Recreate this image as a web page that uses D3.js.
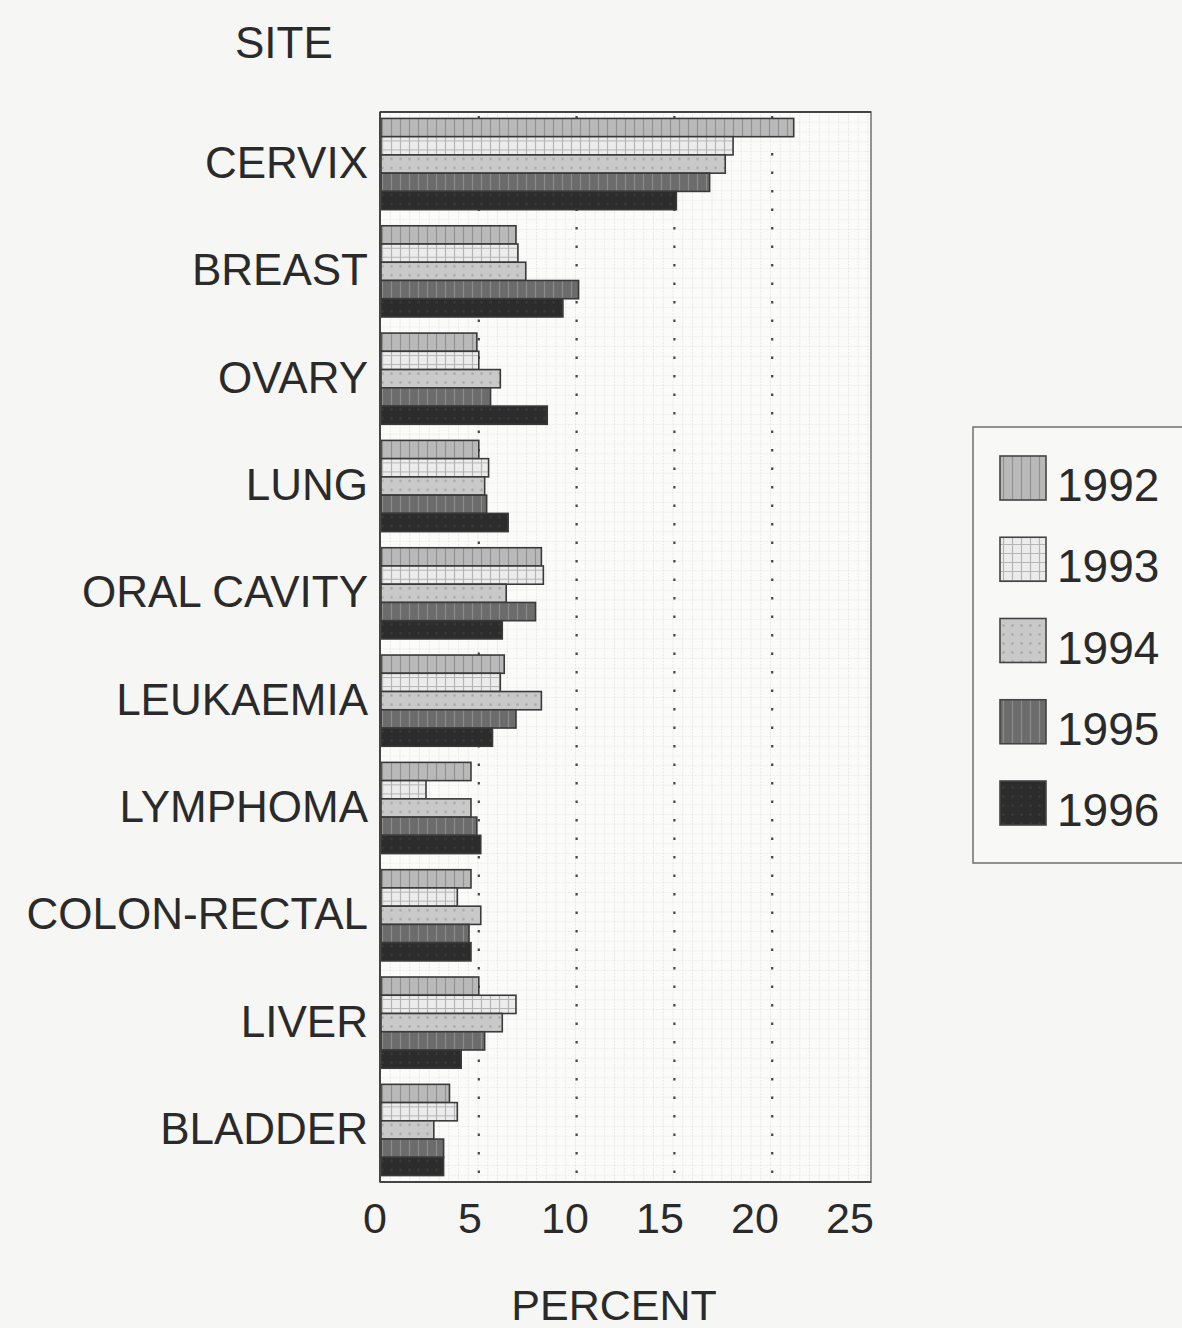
<!DOCTYPE html>
<html>
<head>
<meta charset="utf-8">
<script src="https://cdn.jsdelivr.net/npm/d3@7"></script>
<style>
  html, body { margin: 0; padding: 0; background: #f6f6f5; }
  svg { display: block; }
  text { font-family: "Liberation Sans", Arial, Helvetica, sans-serif; fill: #2a2a2a; }
</style>
</head>
<body>
<svg id="chart" width="1182" height="1328"></svg>
<script>
const categories = ["CERVIX", "BREAST", "OVARY", "LUNG", "ORAL CAVITY", "LEUKAEMIA",
                    "LYMPHOMA", "COLON-RECTAL", "LIVER", "BLADDER"];
const years = ["1992", "1993", "1994", "1995", "1996"];
const values1992 = [21.1, 6.9, 4.9, 5.0, 8.2, 6.3, 4.6, 4.6, 5.0, 3.5];
const values1993 = [18.0, 7.0, 5.0, 5.5, 8.3, 6.1, 2.3, 3.9, 6.9, 3.9];
const values1994 = [17.6, 7.4, 6.1, 5.3, 6.4, 8.2, 4.6, 5.1, 6.2, 2.7];
const values1995 = [16.8, 10.1, 5.6, 5.4, 7.9, 6.9, 4.9, 4.5, 5.3, 3.2];
const values1996 = [15.1, 9.3, 8.5, 6.5, 6.2, 5.7, 5.1, 4.6, 4.1, 3.2];
const xTicks = [0, 5, 10, 15, 20, 25];
const gridTicks = [5, 10, 15, 20];
const headerLabel = "SITE";
const xTitle = "PERCENT";

(function () {
const seriesValues = [values1992, values1993, values1994, values1995, values1996];
const rows = categories.map((c, i) => ({cat: c, vals: years.map((yr, j) => ({year: yr, v: seriesValues[j][i]}))}));

const svg = d3.select("#chart");
const pL = 380, pR = 871, pT = 112, pB = 1182;

const defs = svg.append("defs");
const fills = {
  "1992": {bg: "#b9b9b9", line: "#929292", kind: "v"},
  "1993": {bg: "#ececec", line: "#b5b5b5", kind: "grid"},
  "1994": {bg: "#c9c9c9", line: "#a8a8a8", kind: "dots"},
  "1995": {bg: "#6c6c6c", line: "#8a8a8a", kind: "v"},
  "1996": {bg: "#2c2c2c", line: "#3a3a3a", kind: "dots"}
};
years.forEach(yr => {
  const f = fills[yr];
  const p = defs.append("pattern").attr("id", "p" + yr).attr("patternUnits", "userSpaceOnUse")
    .attr("width", 9).attr("height", 9);
  p.append("rect").attr("width", 9).attr("height", 9).attr("fill", f.bg);
  if (f.kind === "v" || f.kind === "grid") {
    p.append("line").attr("x1", 4.5).attr("x2", 4.5).attr("y1", 0).attr("y2", 9)
      .attr("stroke", f.line).attr("stroke-width", 1.2);
  }
  if (f.kind === "grid") {
    p.append("line").attr("x1", 0).attr("x2", 9).attr("y1", 4.5).attr("y2", 4.5)
      .attr("stroke", f.line).attr("stroke-width", 1);
  }
  if (f.kind === "dots") {
    p.append("circle").attr("cx", 4.5).attr("cy", 4.5).attr("r", 1.3).attr("fill", f.line);
  }
});
const bgGrid = defs.append("pattern").attr("id", "bggrid").attr("patternUnits", "userSpaceOnUse")
  .attr("width", 9.75).attr("height", 9.75).attr("x", pL).attr("y", pT);
bgGrid.append("line").attr("x1", 0.5).attr("x2", 0.5).attr("y1", 0).attr("y2", 9.75)
  .attr("stroke", "#e2e2e2").attr("stroke-width", 1).attr("stroke-dasharray", "1.5,1.5");
bgGrid.append("line").attr("x1", 0).attr("x2", 9.75).attr("y1", 0.5).attr("y2", 0.5)
  .attr("stroke", "#e9e9e9").attr("stroke-width", 1).attr("stroke-dasharray", "1.5,1.5");

const x = d3.scaleLinear().domain([0, 25]).range([pL + 1, pR - 1]);
const xLabel = d3.scaleLinear().domain([0, 25]).range([375, 850]);
const y = d3.scaleBand().domain(categories).range([pT, pB]).paddingInner(0.15).paddingOuter(0.06);
const yInner = d3.scaleBand().domain(years).range([0, y.bandwidth()]).padding(0);

svg.append("rect").attr("x", pL).attr("y", pT).attr("width", pR - pL).attr("height", pB - pT)
  .attr("fill", "#fbfbfa");
svg.append("rect").attr("x", pL).attr("y", pT).attr("width", pR - pL).attr("height", pB - pT)
  .attr("fill", "url(#bggrid)");

svg.append("g").selectAll("line").data(gridTicks).join("line")
  .attr("x1", d => x(d)).attr("x2", d => x(d)).attr("y1", pT + 4).attr("y2", pB)
  .attr("stroke", "#444").attr("stroke-width", 2.2).attr("stroke-dasharray", "2.5,16");

const groups = svg.append("g").selectAll("g").data(rows).join("g")
  .attr("transform", d => `translate(0,${y(d.cat)})`);
groups.selectAll("rect").data(d => d.vals).join("rect")
  .attr("x", x(0)).attr("y", d => yInner(d.year))
  .attr("width", d => x(d.v) - x(0)).attr("height", yInner.bandwidth())
  .attr("fill", d => `url(#p${d.year})`)
  .attr("stroke", "#3a3a3a").attr("stroke-width", 1.6);

svg.append("rect").attr("x", pL).attr("y", pT).attr("width", pR - pL).attr("height", pB - pT)
  .attr("fill", "none").attr("stroke", "#7a7a7a").attr("stroke-width", 1.6);
svg.append("line").attr("x1", pL).attr("x2", pR).attr("y1", pT).attr("y2", pT)
  .attr("stroke", "#444").attr("stroke-width", 2);
svg.append("line").attr("x1", pL).attr("x2", pL).attr("y1", pT).attr("y2", pB)
  .attr("stroke", "#444").attr("stroke-width", 2);
svg.append("line").attr("x1", pL).attr("x2", pR).attr("y1", pB).attr("y2", pB)
  .attr("stroke", "#444").attr("stroke-width", 2);

svg.append("g").selectAll("text").data(categories).join("text")
  .attr("x", 368).attr("y", d => y(d) + y.bandwidth() / 2 + 14)
  .attr("text-anchor", "end").attr("font-size", 44).text(d => d);
svg.append("text").attr("x", 235).attr("y", 58).attr("font-size", 44).text(headerLabel);

svg.append("g").selectAll("text").data(xTicks).join("text")
  .attr("x", d => xLabel(d)).attr("y", 1233).attr("text-anchor", "middle")
  .attr("font-size", 43).text(d => d);
svg.append("text").attr("x", 614).attr("y", 1320).attr("text-anchor", "middle")
  .attr("font-size", 43).text(xTitle);

const lg = svg.append("g");
lg.append("rect").attr("x", 973).attr("y", 427).attr("width", 240).attr("height", 436)
  .attr("fill", "#f8f8f7").attr("stroke", "#777").attr("stroke-width", 1.6);
const ly = d3.scalePoint().domain(years).range([456, 781]);
lg.selectAll("rect.sw").data(years).join("rect").attr("class", "sw")
  .attr("x", 1000).attr("y", d => ly(d)).attr("width", 46).attr("height", 44)
  .attr("fill", d => `url(#p${d})`).attr("stroke", "#444").attr("stroke-width", 1.6);
lg.selectAll("text").data(years).join("text")
  .attr("x", 1057).attr("y", d => ly(d) + 45).attr("font-size", 46).text(d => d);
})();
</script>
</body>
</html>
